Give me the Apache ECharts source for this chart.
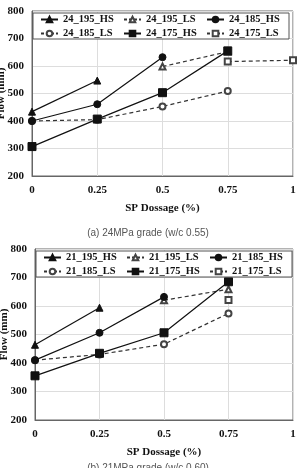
<!DOCTYPE html>
<html>
<head>
<meta charset="utf-8">
<script src="https://cdn.jsdelivr.net/npm/echarts@6/dist/echarts.min.js"></script>
<style>
  html, body { margin: 0; padding: 0; background: #fff; }
  #chart { width: 299px; height: 468px; }
</style>
</head>
<body>
<div id="chart"></div>
<script>
// x values are SP dosage (%), y values flow (mm)
const dosage = [0, 0.25, 0.5, 0.75, 1];
const yTicks = [200, 300, 400, 500, 600, 700, 800];

// (a) 24MPa
const a195HS = [[0, 434], [0.25, 547]];
const a195LS = [[0.5, 598], [0.75, 652]];
const a185HS = [[0, 400], [0.25, 461], [0.5, 632]];
const a185LS = [[0, 400], [0.25, 405], [0.5, 453], [0.75, 509]];
const a175HS = [[0, 307], [0.25, 407], [0.5, 503], [0.75, 655]];
const a175LS = [[0.75, 616], [1, 621]];

// (b) 21MPa
const b195HS = [[0, 464], [0.25, 594]];
const b195LS = [[0.5, 620], [0.75, 659]];
const b185HS = [[0, 410], [0.25, 506], [0.5, 632]];
const b185LS = [[0, 410], [0.25, 430], [0.5, 466], [0.75, 574]];
const b175HS = [[0, 355], [0.25, 434], [0.5, 506], [0.75, 685]];
const b175LS = [[0.75, 621]];

const serif = "Liberation Serif";

function mk(name, data, dashed, symbol, idx) {
  return {
    name: name,
    type: "line",
    xAxisIndex: idx,
    yAxisIndex: idx,
    data: data,
    symbol: symbol,
    symbolSize: symbol.indexOf("empty") === 0 ? 6 : (symbol === "rect" ? 8 : 7),
    lineStyle: { color: dashed ? "#333" : "#111", width: 1.2, type: dashed ? [4, 3] : "solid" },
    itemStyle: { color: dashed ? "#444" : "#111", borderColor: dashed ? "#444" : "#111", borderWidth: 1 },
    z: dashed ? 2 : 3
  };
}

function xAx(idx) {
  return {
    gridIndex: idx,
    type: "value",
    min: dosage[0], max: dosage[dosage.length - 1], interval: 0.25,
    name: "SP Dossage (%)",
    nameLocation: "middle",
    nameGap: 27,
    nameTextStyle: { fontFamily: serif, fontWeight: "bold", fontSize: 11, color: "#111" },
    axisLine: { lineStyle: { color: "#666" } },
    axisTick: { show: false },
    axisLabel: { fontFamily: serif, fontWeight: "bold", fontSize: 11, color: "#111", margin: 9,
      formatter: v => String(v) },
    splitLine: { show: true, lineStyle: { color: "#ddd" } }
  };
}

function yAx(idx) {
  return {
    gridIndex: idx,
    type: "value",
    min: yTicks[0], max: yTicks[yTicks.length - 1], interval: 100,
    name: "Flow (mm)",
    nameLocation: "middle",
    nameGap: 25,
    nameMoveOverlap: false,
    nameTextStyle: { fontFamily: serif, fontWeight: "bold", fontSize: 11, color: "#111" },
    axisLine: { show: true, lineStyle: { color: "#666" } },
    axisTick: { show: false },
    axisLabel: { fontFamily: serif, fontWeight: "bold", fontSize: 11, color: "#111", margin: 8 },
    splitLine: { show: true, lineStyle: { color: "#ddd" } }
  };
}

function lg(names, top, left) {
  return {
    data: names.map(n => ({ name: n, lineStyle: n.indexOf("LS") > 0 ? { type: [3, 2] } : {} })),
    top: top, left: left, width: 270,
    itemWidth: 17, itemHeight: 7, itemGap: 3,
    padding: [1, 3, 0, 7],
    borderColor: "#555", borderWidth: 1,
    backgroundColor: "#fff",
    textStyle: { fontFamily: serif, fontWeight: "bold", fontSize: 10.5, color: "#111",
      width: 57, lineHeight: 10 }
  };
}

const namesA = ["24_195_HS", "24_195_LS", "24_185_HS", "24_185_LS", "24_175_HS", "24_175_LS"];
const namesB = ["21_195_HS", "21_195_LS", "21_185_HS", "21_185_LS", "21_175_HS", "21_175_LS"];

const chart = echarts.init(document.getElementById("chart"));
chart.setOption({
  animation: false,
  title: [
    { text: "(a) 24MPa grade (w/c 0.55)", left: 143, top: 223, textAlign: "center",
      textStyle: { fontFamily: "Liberation Sans", fontWeight: "normal", fontSize: 10, color: "#555" } },
    { text: "(b) 21MPa grade (w/c 0.60)", left: 143, top: 458, textAlign: "center",
      textStyle: { fontFamily: "Liberation Sans", fontWeight: "normal", fontSize: 10, color: "#555" } }
  ],
  grid: [
    { left: 32, right: 6, top: 11, height: 165, show: true, borderColor: "#666", outerBoundsMode: "none" },
    { left: 35, right: 6, top: 249, height: 171, show: true, borderColor: "#666", outerBoundsMode: "none" }
  ],
  xAxis: [xAx(0), xAx(1)],
  yAxis: [yAx(0), yAx(1)],
  legend: [lg(namesA, 13, 33), lg(namesB, 251, 36)],
  series: [
    mk(namesA[0], a195HS, false, "triangle", 0),
    mk(namesA[1], a195LS, true, "emptyTriangle", 0),
    mk(namesA[2], a185HS, false, "circle", 0),
    mk(namesA[3], a185LS, true, "emptyCircle", 0),
    mk(namesA[4], a175HS, false, "rect", 0),
    mk(namesA[5], a175LS, true, "emptyRect", 0),
    mk(namesB[0], b195HS, false, "triangle", 1),
    mk(namesB[1], b195LS, true, "emptyTriangle", 1),
    mk(namesB[2], b185HS, false, "circle", 1),
    mk(namesB[3], b185LS, true, "emptyCircle", 1),
    mk(namesB[4], b175HS, false, "rect", 1),
    mk(namesB[5], b175LS, true, "emptyRect", 1)
  ]
});
</script>
</body>
</html>
